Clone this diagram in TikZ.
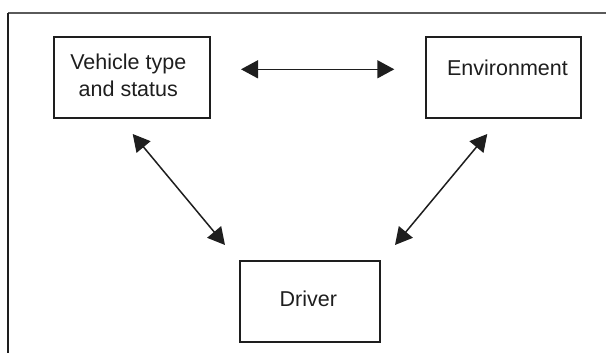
\documentclass[tikz,border=0pt]{standalone}
\usepackage{fontspec}
\setmainfont{Liberation Sans}
\usetikzlibrary{arrows.meta}
\definecolor{ink}{HTML}{1E1E1E}
\definecolor{framegray}{HTML}{5A5A5A}
\tikzset{
  box/.style={draw=ink, line width=1.8pt, rectangle, inner sep=0pt},
  lbl/.style={text=ink, anchor=base, inner sep=0pt, font=\fontsize{21.5}{26}\selectfont},
  link/.style={draw=ink, line width=1.5pt,
    {Triangle[length=17pt,width=18pt]}-{Triangle[length=17pt,width=18pt]}}
}
\begin{document}
\begin{tikzpicture}[x=1pt, y=-1pt]
  \useasboundingbox (0,0) rectangle (606,353);
  % outer frame: top and left edges only
  \draw[framegray, line width=1.5pt] (606,13) -- (8,13);
  \draw[ink, line width=1.5pt] (8,13) -- (8,353);

  % boxes
  \node[box, minimum width=156pt, minimum height=81pt] (veh) at (132,77.5) {};
  \node[box, minimum width=155pt, minimum height=81pt] (env) at (503.2,77.5) {};
  \node[box, minimum width=140pt, minimum height=81pt] (drv) at (310,301.3) {};

  % labels
  \node[lbl] (vehA) at (128.3,70) {Vehicle type};
  \node[lbl] (vehB) at (128.3,96) {and status};
  \node[lbl] (envT) at (507.5,76) {Environment};
  \node[lbl] (drvT) at (308.3,306.7) {Driver};

  % arrow end points
  \coordinate (hL) at (241,69.3);
  \coordinate (hR) at (394.3,69.3);
  \coordinate (dLt) at (132.7,134);
  \coordinate (dLb) at (225,245);
  \coordinate (dRt) at (487.3,134);
  \coordinate (dRb) at (395,245);

  \draw[link] (hL) -- (hR);
  \draw[link] (dLt) -- (dLb);
  \draw[link] (dRt) -- (dRb);
\end{tikzpicture}
\end{document}
